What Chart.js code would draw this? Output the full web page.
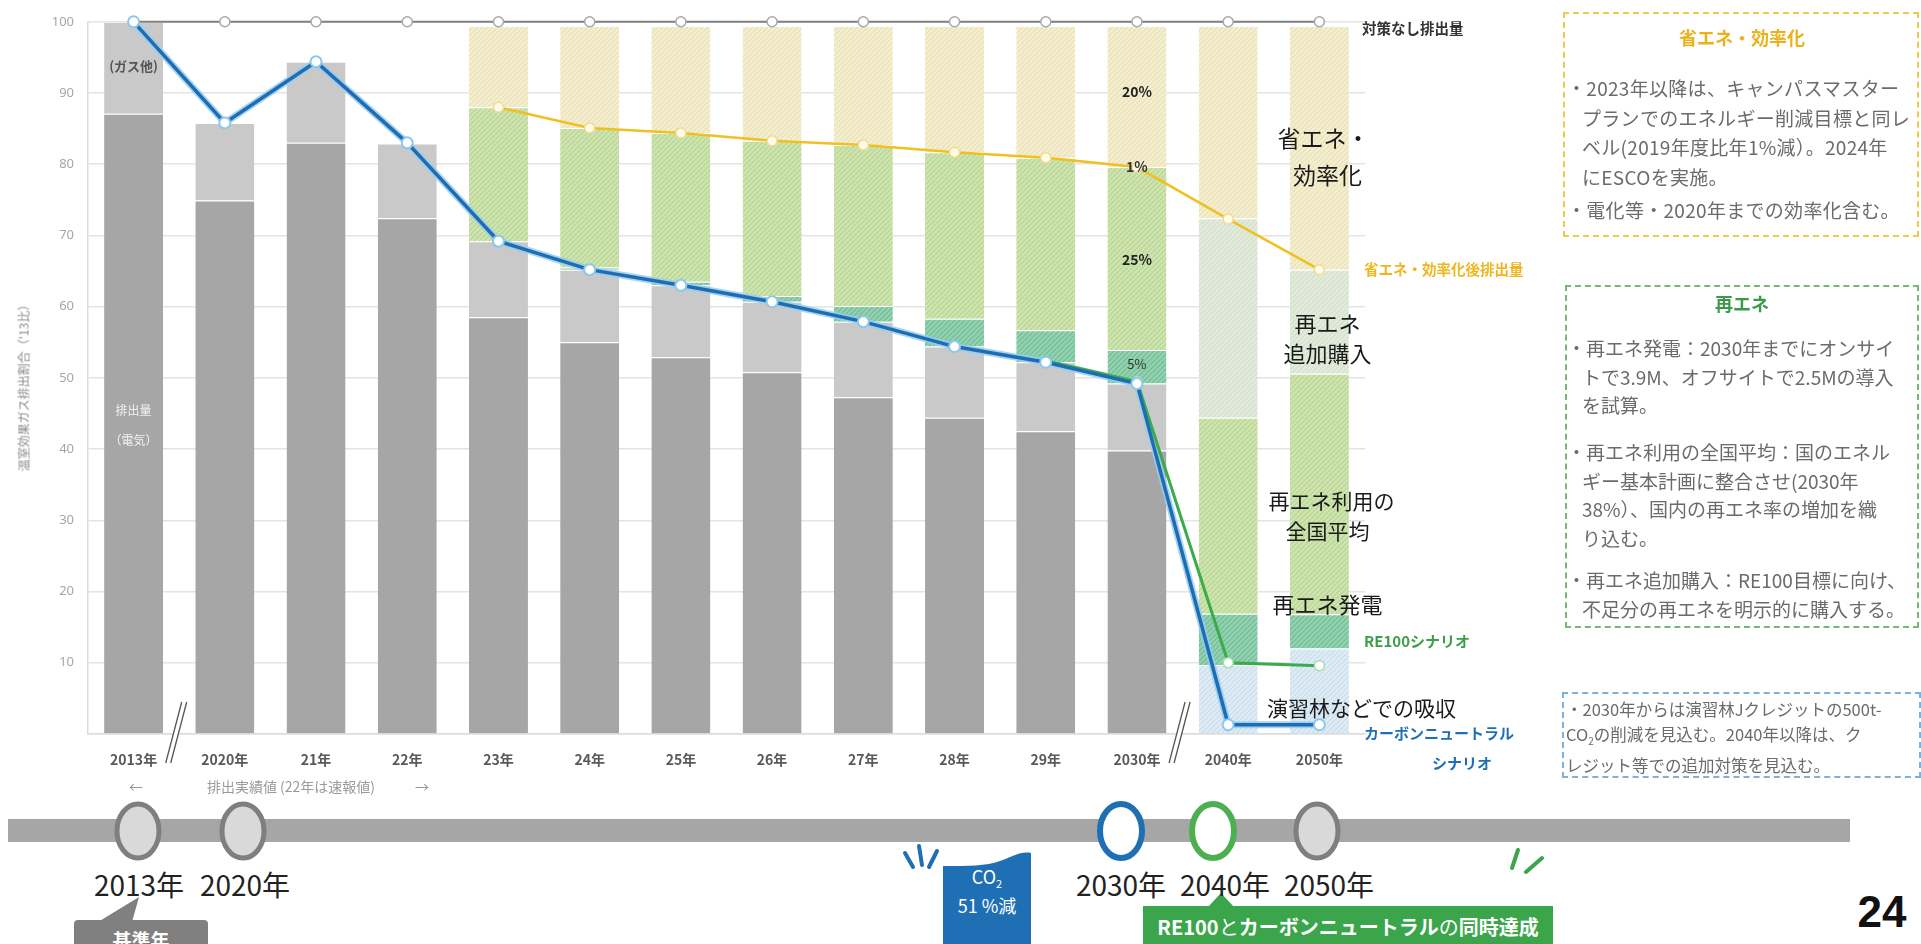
<!DOCTYPE html>
<html><head><meta charset="utf-8">
<script src="https://cdn.jsdelivr.net/npm/chart.js@4.4.1/dist/chart.umd.min.js"></script>
<style>
html,body{margin:0;padding:0;background:#fff;width:1921px;height:944px;overflow:hidden;font-family:'Noto Sans CJK JP','Noto Sans',sans-serif;}
#wrap{position:absolute;left:0;top:0;width:1921px;height:800px;z-index:2;}
#deco{position:absolute;left:0;top:0;z-index:1;}
.t{position:absolute;white-space:nowrap;transform:translate(-50%,-50%);z-index:3;}
.box{position:absolute;box-sizing:border-box;z-index:3;}
.para{position:absolute;white-space:nowrap;padding-left:15px;text-indent:-15px;color:#6b6b6b;z-index:3;}
</style></head><body>
<svg id="deco" width="1921" height="944">
  <rect x="8" y="819" width="1842" height="23" fill="#a6a6a6"/>
  <ellipse cx="138" cy="831" rx="21" ry="27" fill="#d9d9d9" stroke="#7f7f7f" stroke-width="5"/>
  <ellipse cx="243" cy="831" rx="21" ry="27" fill="#d9d9d9" stroke="#7f7f7f" stroke-width="5"/>
  <ellipse cx="1121" cy="831" rx="21" ry="27" fill="#ffffff" stroke="#1f6fb5" stroke-width="6"/>
  <ellipse cx="1213" cy="831" rx="21" ry="27" fill="#ffffff" stroke="#4cb050" stroke-width="6"/>
  <ellipse cx="1317" cy="831" rx="21" ry="27" fill="#d9d9d9" stroke="#7f7f7f" stroke-width="5"/>
  <polygon points="98,922 132,922 139,897" fill="#808080"/>
  <rect x="74" y="920" width="134" height="34" rx="4" fill="#808080"/>
  <path d="M943,866 C968,866 986,866 1000,861 C1012,857 1020,851 1031,853 L1031,944 L943,944 Z" fill="#1f6fb5"/>
  <g stroke="#1f6fb5" stroke-width="4" stroke-linecap="round">
    <line x1="905" y1="853" x2="913" y2="867"/>
    <line x1="919" y1="846" x2="922" y2="865"/>
    <line x1="937" y1="851" x2="929" y2="867"/>
  </g>
  <g stroke="#3aa54b" stroke-width="4" stroke-linecap="round">
    <line x1="1512" y1="868" x2="1518" y2="850"/>
    <line x1="1526" y1="872" x2="1542" y2="858"/>
  </g>
  <polygon points="1208,907 1234,907 1221,893" fill="#3aa54b"/>
  <rect x="1143" y="906" width="410" height="40" fill="#3aa54b"/>
</svg>
<div id="wrap"><canvas id="c"></canvas></div>

<div class="t" style="left:23px;top:385px;transform:translate(-50%,-50%) rotate(-90deg);font-size:12px;color:#8a8a8a;">温室効果ガス排出割合（'13比）</div>

<div class="t" style="left:136px;top:786px;font-size:14px;color:#9a9a9a;">←</div>
<div class="t" style="left:291px;top:786px;font-size:14px;color:#9a9a9a;">排出実績値 (22年は速報値)</div>
<div class="t" style="left:422px;top:786px;font-size:14px;color:#9a9a9a;">→</div>

<div class="t" style="left:139px;top:884px;font-size:28px;color:#222;">2013年</div>
<div class="t" style="left:245px;top:884px;font-size:28px;color:#222;">2020年</div>
<div class="t" style="left:1121px;top:884px;font-size:28px;color:#222;">2030年</div>
<div class="t" style="left:1225px;top:884px;font-size:28px;color:#222;">2040年</div>
<div class="t" style="left:1329px;top:884px;font-size:28px;color:#222;">2050年</div>
<div class="t" style="left:141px;top:939px;font-size:19px;font-weight:700;color:#fff;">基準年</div>
<div class="t" style="left:987px;top:877px;font-size:18px;color:#fff;">CO<sub style="font-size:11px;">2</sub></div>
<div class="t" style="left:987px;top:905px;font-size:18px;color:#fff;">51 %減</div>
<div class="t" style="left:1348px;top:926px;font-size:20px;font-weight:700;color:#fff;">RE100<span style="font-weight:400">と</span>カーボンニュートラル<span style="font-weight:400">の</span>同時達成</div>
<div class="t" style="left:1882px;top:912px;font-size:44px;font-weight:700;color:#111;font-family:'Liberation Sans',Arial,sans-serif;">24</div>

<div class="box" style="left:1563px;top:12px;width:356px;height:225px;border:2px dashed #f0c94a;"></div>
<div class="t" style="left:1742px;top:37px;font-size:18px;font-weight:700;color:#e9b21c;">省エネ・効率化</div>
<div class="para" style="left:1567px;top:73px;font-size:19px;letter-spacing:0.3px;line-height:29.5px;">・2023年以降は、キャンパスマスター<br>プランでのエネルギー削減目標と同レ<br>ベル(2019年度比年1%減）。2024年<br>にESCOを実施。</div>
<div class="para" style="left:1567px;top:195px;font-size:19px;letter-spacing:0.3px;line-height:29.5px;">・電化等・2020年までの効率化含む。</div>

<div class="box" style="left:1565px;top:285px;width:354px;height:343px;border:2px dashed #77b877;"></div>
<div class="t" style="left:1742px;top:303px;font-size:18px;font-weight:700;color:#3a9a4a;">再エネ</div>
<div class="para" style="left:1567px;top:334px;font-size:19px;line-height:28.5px;">・再エネ発電：2030年までにオンサイ<br>トで3.9M、オフサイトで2.5Mの導入<br>を試算。</div>
<div class="para" style="left:1567px;top:438px;font-size:19px;line-height:28.5px;">・再エネ利用の全国平均：国のエネル<br>ギー基本計画に整合させ(2030年<br>38%）、国内の再エネ率の増加を織<br>り込む。</div>
<div class="para" style="left:1567px;top:566px;font-size:19px;line-height:28.5px;">・再エネ追加購入：RE100目標に向け、<br>不足分の再エネを明示的に購入する。</div>

<div class="box" style="left:1562px;top:692px;width:359px;height:86px;border:2px dashed #7fb0dc;"></div>
<div class="para" style="left:1566px;top:697px;font-size:16.5px;line-height:25px;padding-left:0;text-indent:0;">・2030年からは演習林Jクレジットの500t-<br>CO<sub style="font-size:10px;">2</sub>の削減を見込む。2040年以降は、ク<br>レジット等での追加対策を見込む。</div>

<script>
const categories = ['2013年','2020年','21年','22年','23年','24年','25年','26年','27年','28年','29年','2030年','2040年','2050年'];
const yTickValues = [0,10,20,30,40,50,60,70,80,90,100];

// stacked bar segments (share of 2013 emissions, %)
const electricity      = [87.1, 74.9, 83.0, 72.4, 58.5, 55.0, 52.9, 50.8, 47.3, 44.4, 42.5, 39.8, null, null];
const gasOther         = [12.9, 10.9, 11.4, 10.5, 10.7, 10.2, 10.1, 9.9, 10.6, 10.0, 9.7, 9.4, null, null];
const forestAbsorption = [null, null, null, null, null, null, null, null, null, null, null, null, 9.7, 12.0];
const reOnsite         = [null, null, null, null, null, 0.3, 0.5, 0.8, 2.2, 3.9, 4.5, 4.7, 7.2, 4.8];
const reNational       = [null, null, null, null, 18.8, 19.6, 20.9, 21.8, 22.6, 23.4, 24.2, 25.7, 27.5, 33.8];
const reAdditional     = [null, null, null, null, null, null, null, null, null, null, null, null, 28.0, 14.6];
const efficiency       = [null, null, null, null, 11.4, 14.3, 15.0, 16.1, 16.7, 17.7, 18.5, 19.8, 27.0, 34.2];

// lines
const noMeasures      = [100, 100, 100, 100, 100, 100, 100, 100, 100, 100, 100, 100, 100, 100];
const afterEfficiency = [null, null, null, null, 88.0, 85.1, 84.4, 83.3, 82.7, 81.7, 80.9, 79.6, 72.3, 65.2];
const cnScenario      = [100, 85.8, 94.4, 83.0, 69.2, 65.2, 63.0, 60.7, 57.9, 54.4, 52.2, 49.2, 1.3, 1.3];
const re100Scenario   = [null, null, null, null, null, null, null, null, null, null, 52.4, 49.5, 10.0, 9.6];

function hatch(bg, fg){
  const c = document.createElement('canvas'); c.width = 5; c.height = 5;
  const g = c.getContext('2d');
  g.fillStyle = bg; g.fillRect(0,0,5,5);
  g.strokeStyle = fg; g.lineWidth = 1.1;
  g.beginPath();
  g.moveTo(0,5); g.lineTo(5,0);
  g.moveTo(-2.5,2.5); g.lineTo(2.5,-2.5);
  g.moveTo(2.5,7.5); g.lineTo(7.5,2.5);
  g.stroke();
  return g.createPattern(c,'repeat');
}
const pBeige = hatch('#f4eed2','#e9dfb0');
const pGreen = hatch('#cfe4b0','#b3d58f');
const pTeal  = hatch('#95d1b0','#6bbd93');
const pPale  = hatch('#e3ebdc','#d2dfc8');
const pBlue  = hatch('#dfecf4','#c6dcec');

const FONT = "'Noto Sans CJK JP','Noto Sans',sans-serif";
Chart.defaults.font.family = FONT;

function bar(label, data, color){
  return {type:'bar', label, data, backgroundColor:color, borderColor:'#ffffff',
    borderWidth:{top:1}, borderSkipped:'start', stack:'s', order:10,
    barPercentage:0.647, categoryPercentage:1};
}

const annot = {
  id:'annot',
  afterDatasetsDraw(chart){
    const {ctx, scales:{x, y}} = chart;
    const T = (s, px, py, size, weight, color, align) => {
      ctx.font = `${weight} ${size}px ${FONT}`; ctx.fillStyle = color;
      ctx.textAlign = align || 'center'; ctx.textBaseline = 'middle'; ctx.fillText(s, px, py);
    };
    ctx.save();
    // axis break marks
    [[0,1],[11,12]].forEach(([a,b]) => {
      const mx = (x.getPixelForValue(a) + x.getPixelForValue(b)) / 2 - 3;
      const yb = y.getPixelForValue(0);
      const top = yb - 32, bot = yb + 29;
      ctx.fillStyle = '#fff';
      ctx.beginPath(); ctx.moveTo(mx-10.5,bot); ctx.lineTo(mx+5.5,top); ctx.lineTo(mx+10.5,top); ctx.lineTo(mx-5.5,bot); ctx.closePath(); ctx.fill();
      ctx.strokeStyle = '#555'; ctx.lineWidth = 1.3;
      ctx.beginPath(); ctx.moveTo(mx-10.5,bot); ctx.lineTo(mx+5.5,top); ctx.moveTo(mx-5.5,bot); ctx.lineTo(mx+10.5,top); ctx.stroke();
    });
    const x0 = x.getPixelForValue(0), x11 = x.getPixelForValue(11), x13 = x.getPixelForValue(13);
    T('(ガス他)', x0, y.getPixelForValue(93.8), 13, 700, '#555');
    T('排出量', x0, y.getPixelForValue(45.5), 12, 400, '#f2f2f2');
    T('（電気）', x0, y.getPixelForValue(41.2), 12, 400, '#f2f2f2');
    T('20%', x11, y.getPixelForValue(90.2), 14, 700, '#222');
    T('1%', x11, y.getPixelForValue(79.6), 14, 700, '#333');
    T('25%', x11, y.getPixelForValue(66.6), 14, 700, '#222');
    T('5%', x11, y.getPixelForValue(52.0), 13, 400, '#333');
    // section labels on the 2050 bar
    const cx = x13 + 6;
    T('省エネ・', cx - 2, y.getPixelForValue(83.6), 23, 400, '#1a1a1a');
    T('効率化', cx + 2, y.getPixelForValue(78.5), 23, 400, '#1a1a1a');
    T('再エネ', cx + 2, y.getPixelForValue(57.6), 22, 400, '#1a1a1a');
    T('追加購入', cx + 2, y.getPixelForValue(53.4), 22, 400, '#1a1a1a');
    T('再エネ利用の', cx + 6, y.getPixelForValue(32.7), 21, 400, '#1a1a1a');
    T('全国平均', cx + 2, y.getPixelForValue(28.5), 21, 400, '#1a1a1a');
    T('再エネ発電', cx + 2, y.getPixelForValue(18.2), 22, 400, '#1a1a1a');
    T('演習林などでの吸収', x13 + 42, y.getPixelForValue(3.6), 21, 400, '#1a1a1a');
    // line labels right of plot
    const lx = chart.chartArea.right - 3;
    T('対策なし排出量', lx, y.getPixelForValue(100) + 7, 14.5, 700, '#333', 'left');
    T('省エネ・効率化後排出量', lx + 2, y.getPixelForValue(65.2), 14.5, 700, '#efb71d', 'left');
    T('RE100シナリオ', lx + 2, y.getPixelForValue(9.6) - 24, 15, 700, '#3aa04a', 'left');
    T('カーボンニュートラル', lx + 2, y.getPixelForValue(0) - 1, 15, 700, '#1f6fb5', 'left');
    T('シナリオ', lx + 100, y.getPixelForValue(0) + 29, 15, 700, '#1f6fb5', 'center');
    ctx.restore();
  }
};

new Chart(document.getElementById('c'), {
  data:{
    labels: categories,
    datasets:[
      bar('排出量（電気）', electricity, '#a6a6a6'),
      bar('ガス他', gasOther, '#c9c9c9'),
      bar('演習林などでの吸収', forestAbsorption, pBlue),
      bar('再エネ発電', reOnsite, pTeal),
      bar('再エネ利用の全国平均', reNational, pGreen),
      bar('再エネ追加購入', reAdditional, pPale),
      bar('省エネ・効率化', efficiency, pBeige),
      {type:'line', label:'対策なし排出量', data:noMeasures, stack:'l1', order:4, clip:false,
        borderColor:'#808080', borderWidth:2, pointRadius:5, pointBackgroundColor:'#fff', pointBorderColor:'#a8a8a8', pointBorderWidth:1.5},
      {type:'line', label:'省エネ・効率化後排出量', data:afterEfficiency, stack:'l2', order:3, clip:false,
        borderColor:'#f0c020', borderWidth:2.5, pointRadius:5, pointBackgroundColor:'#fffbea', pointBorderColor:'#f2dc90', pointBorderWidth:1.5},
      {type:'line', label:'glow', data:cnScenario, stack:'l3', order:2, clip:false,
        borderColor:'rgba(150,205,240,0.85)', borderWidth:7, pointRadius:0},
      {type:'line', label:'RE100シナリオ', data:re100Scenario, stack:'l4', order:1, clip:false,
        borderColor:'#3cab4c', borderWidth:3, pointRadius:(c)=> c.dataIndex >= 11 ? 5 : 0,
        pointBackgroundColor:'#fff', pointBorderColor:'#a6dcae', pointBorderWidth:1.5},
      {type:'line', label:'カーボンニュートラルシナリオ', data:cnScenario, stack:'l5', order:0, clip:false,
        borderColor:'#1e6db3', borderWidth:3.5, pointRadius:5.5, pointBackgroundColor:'#fff', pointBorderColor:'#8cc8ec', pointBorderWidth:2}
    ]
  },
  options:{
    responsive:true, maintainAspectRatio:false, animation:false,
    layout:{padding:{top:18, right:556, left:0, bottom:0}},
    plugins:{legend:{display:false}, tooltip:{enabled:false}},
    scales:{
      x:{stacked:true, grid:{display:false, drawTicks:false},
        border:{display:true, color:'#dcdcdc', width:1.5},
        ticks:{padding:17, color:'#595959', font:{size:14, weight:'700'}},
        afterFit:(s)=>{ s.height = 66; }},
      y:{stacked:true, min:0, max:100,
        afterBuildTicks:(s)=>{ s.ticks = yTickValues.map(v=>({value:v})); },
        grid:{color:'#e4e4e4', lineWidth:1.5, drawTicks:false},
        border:{display:true, color:'#dcdcdc', width:1.5},
        ticks:{padding:14, color:'#a6a6a6', font:{size:13, family:"'Noto Sans',sans-serif"},
          callback:(v)=> v === 0 ? '' : v},
        afterFit:(s)=>{ s.width = 88; }}
    }
  },
  plugins:[annot]
});
</script>
</body></html>
